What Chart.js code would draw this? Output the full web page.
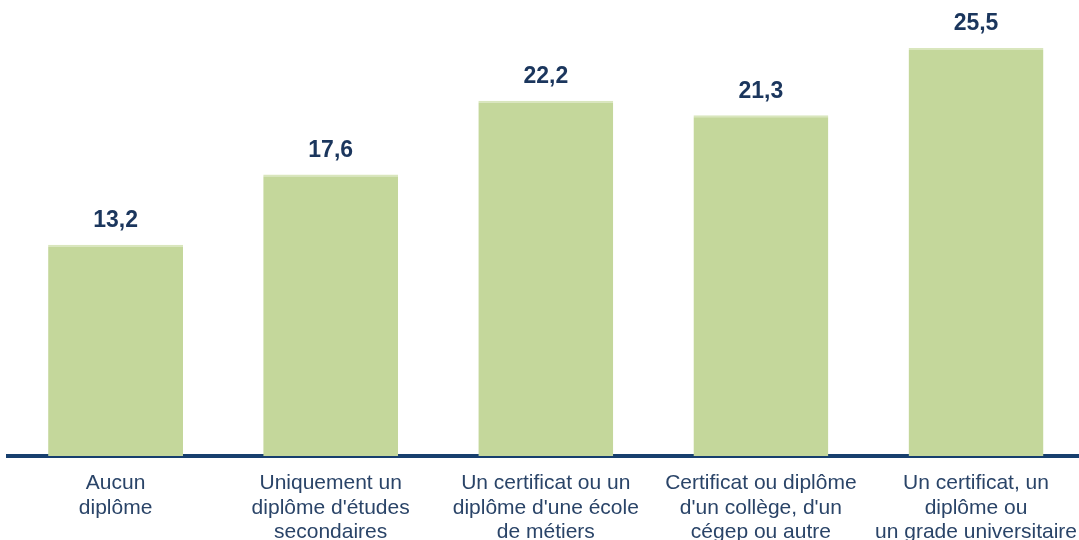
<!DOCTYPE html>
<html>
<head>
<meta charset="utf-8">
<script src="https://cdn.jsdelivr.net/npm/chart.js@4/dist/chart.umd.min.js"></script>
<style>
  html, body { margin: 0; padding: 0; background: #ffffff; overflow: hidden; }
  #wrap { width: 1084px; height: 540px; }
</style>
</head>
<body>
<div id="wrap"><canvas id="graphique" width="1084" height="540"></canvas></div>
<script>
const categories = [
    ["Aucun", "diplôme"],
    ["Uniquement un", "diplôme d'études", "secondaires"],
    ["Un certificat ou un", "diplôme d'une école", "de métiers"],
    ["Certificat ou diplôme", "d'un collège, d'un", "cégep ou autre"],
    ["Un certificat, un", "diplôme ou", "un grade universitaire"]
];
const valeurs = [13.2, 17.6, 22.2, 21.3, 25.5];

// étiquettes de valeur au-dessus des barres
const etiquettesValeurs = {
    id: "etiquettesValeurs",
    afterDatasetsDraw(chart) {
        const ctx = chart.ctx;
        const meta = chart.getDatasetMeta(0);
        ctx.save();
        ctx.font = "bold 23px 'Liberation Sans', Arial, sans-serif";
        ctx.fillStyle = "#1b365d";
        ctx.textAlign = "center";
        ctx.textBaseline = "middle";
        meta.data.forEach((barre, i) => {
            const texte = valeurs[i].toFixed(1).replace(".", ",");
            ctx.fillText(texte, barre.x, barre.y - 24);
        });
        ctx.restore();
    }
};

new Chart(document.getElementById("graphique").getContext("2d"), {
    type: "bar",
    data: {
        labels: categories,
        datasets: [{
            data: valeurs,
            backgroundColor: "#c4d79b",
            borderColor: "#d9e6bd",
            borderWidth: { top: 2, left: 0, right: 0, bottom: 0 },
            borderSkipped: "bottom",
            barPercentage: 0.627,
            categoryPercentage: 1
        }]
    },
    options: {
        responsive: false,
        animation: false,
        layout: { padding: { top: 8, left: 8, right: 0, bottom: 0 } },
        plugins: {
            legend: { display: false },
            tooltip: { enabled: false }
        },
        scales: {
            x: {
                grid: { display: false },
                border: { display: true, color: "#173f6e", width: 4 },
                ticks: {
                    color: "#2a4468",
                    font: { family: "'Liberation Sans', Arial, sans-serif", size: 21, lineHeight: 1.17 },
                    padding: 7,
                    maxRotation: 0,
                    autoSkip: false
                },
                afterFit(axis) { axis.height = 84; }
            },
            y: {
                display: false,
                min: 0,
                max: 28
            }
        }
    },
    plugins: [etiquettesValeurs]
});
</script>
</body>
</html>
